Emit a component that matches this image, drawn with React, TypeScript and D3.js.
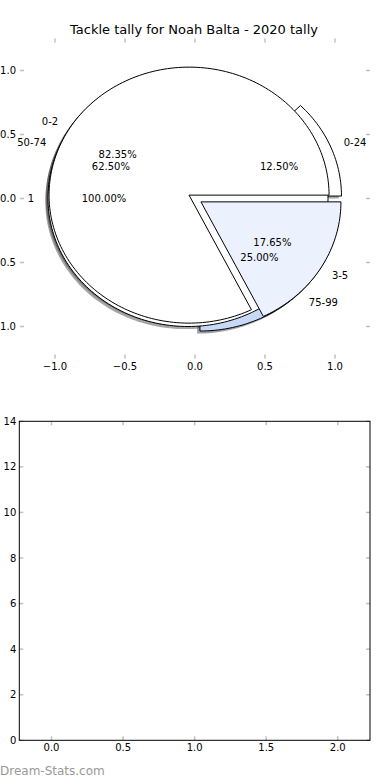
import * as d3 from "d3";

// pie data, drawn in this order (last on top)
const rangeLabels = ["0-24", "50-74", "75-99"];
const rangeValues = [1, 5, 2];
const fullLabels = ["1"];
const fullValues = [1];
const countLabels = ["0-2", "3-5"];
const countValues = [14, 3];

const pieTicks = [-1, -0.5, 0, 0.5, 1];
const barXTicks = [0, 0.5, 1, 1.5, 2];
const barYTicks = [0, 2, 4, 6, 8, 10, 12, 14];

const title = "Tackle tally for Noah Balta - 2020 tally";

const W = 390;
const H = 780;
const EXPLODE = 0.05;
const FONT = "DejaVu Sans, sans-serif";
const TICK = "#c0c0c0";

const pies = [
  { labels: rangeLabels, values: rangeValues, colors: ["#ffffff", "#ffffff", "#c6d9f6"] },
  { labels: fullLabels, values: fullValues, colors: ["#ffffff"] },
  { labels: countLabels, values: countValues, colors: ["#ffffff", "#ebf1fd"] },
];

const x = d3.scaleLinear().domain([-1.25, 1.25]).range([20, 370]);
const y = d3.scaleLinear().domain([-1.25, 1.25]).range([358.5, 38.5]);

const bx = d3.scaleLinear().domain([-0.225, 2.225]).range([19.3, 370]);
const by = d3.scaleLinear().domain([0, 14]).range([740.3, 421.3]);

const line = d3
  .line<[number, number]>()
  .x((d) => x(d[0]))
  .y((d) => y(d[1]));

function wedgePath(cx: number, cy: number, a0: number, a1: number) {
  const full = a1 - a0 >= 2 * Math.PI - 1e-9;
  const n = Math.max(2, Math.ceil((a1 - a0) / (Math.PI / 120)));
  const pts: [number, number][] = full ? [] : [[cx, cy]];
  for (let i = 0; i <= n; i++) {
    const t = a0 + ((a1 - a0) * i) / n;
    pts.push([cx + Math.cos(t), cy + Math.sin(t)]);
  }
  return line(pts) + "Z";
}

const pieGen = d3
  .pie<number>()
  .sort(null)
  .value((d) => d)
  .startAngle(0)
  .endAngle(2 * Math.PI);

const wedges = pies.flatMap((p, pi) => {
  const total = d3.sum(p.values);
  return pieGen(p.values).map((a, i) => {
    const mid = (a.startAngle + a.endAngle) / 2;
    const cx = EXPLODE * Math.cos(mid);
    const cy = EXPLODE * Math.sin(mid);
    return {
      key: `${pi}-${i}`,
      cx,
      cy,
      a0: a.startAngle,
      a1: a.endAngle,
      mid,
      color: p.colors[i],
      label: p.labels[i],
      pct: ((100 * p.values[i]) / total).toFixed(2) + "%",
    };
  });
});

function shadowColor(c: string) {
  const rgb = d3.rgb(c);
  return d3.rgb(rgb.r * 0.3, rgb.g * 0.3, rgb.b * 0.3).toString();
}

const fmt = (t: number) => d3.format(".1f")(t).replace("-", "\u2212");

export default function App() {
  return (
    <svg
      width={W}
      height={H}
      style={{ position: "absolute", left: 0, top: 0, background: "#fff" }}
      fontFamily={FONT}
    >
      <text x={194} y={34} textAnchor="middle" fontSize={13}>
        {title}
      </text>

      {/* pie panel ticks */}
      {pieTicks.map((t) => (
        <g key={"px" + t}>
          <line x1={x(t)} x2={x(t)} y1={y(1.25)} y2={y(1.25) + 4} stroke={TICK} strokeWidth={1.5} />
          <line x1={x(t)} x2={x(t)} y1={y(-1.25)} y2={y(-1.25) - 4} stroke={TICK} strokeWidth={1.5} />
          <text x={x(t)} y={y(-1.25) + 11} textAnchor="middle" fontSize={10}>
            {fmt(t)}
          </text>
        </g>
      ))}
      {pieTicks.map((t) => (
        <g key={"py" + t}>
          <line x1={x(-1.25)} x2={x(-1.25) + 4} y1={y(t)} y2={y(t)} stroke={TICK} strokeWidth={1.5} />
          <line x1={x(1.25)} x2={x(1.25) - 4} y1={y(t)} y2={y(t)} stroke={TICK} strokeWidth={1.5} />
          <text x={x(-1.25) - 4} y={y(t)} dy="0.35em" textAnchor="end" fontSize={10}>
            {fmt(t)}
          </text>
        </g>
      ))}

      {/* shadows under every wedge */}
      {wedges.map((w) => (
        <path
          key={"s" + w.key}
          d={wedgePath(w.cx - 0.02, w.cy - 0.02, w.a0, w.a1)}
          fill={shadowColor(w.color)}
          fillOpacity={0.5}
        />
      ))}
      {wedges.map((w) => (
        <path
          key={"w" + w.key}
          d={wedgePath(w.cx, w.cy, w.a0, w.a1)}
          fill={w.color}
          stroke="#000"
          strokeWidth={1}
        />
      ))}
      {wedges.map((w) => {
        const lx = w.cx + 1.1 * Math.cos(w.mid);
        const ly = w.cy + 1.1 * Math.sin(w.mid);
        const px = w.cx + 0.6 * Math.cos(w.mid);
        const py = w.cy + 0.6 * Math.sin(w.mid);
        return (
          <g key={"t" + w.key} fontSize={10}>
            <text x={x(lx)} y={y(ly)} dy="0.35em" textAnchor={lx > 0 ? "start" : "end"}>
              {w.label}
            </text>
            <text x={x(px)} y={y(py)} dy="0.35em" textAnchor="middle">
              {w.pct}
            </text>
          </g>
        );
      })}

      {/* empty bar panel */}
      {barXTicks.map((t) => (
        <g key={"bx" + t}>
          <line x1={bx(t)} x2={bx(t)} y1={by(0)} y2={by(0) - 4} stroke={TICK} strokeWidth={1.5} />
          <line x1={bx(t)} x2={bx(t)} y1={by(14)} y2={by(14) + 4} stroke={TICK} strokeWidth={1.5} />
          <text x={bx(t)} y={by(0) + 11} textAnchor="middle" fontSize={10}>
            {d3.format(".1f")(t)}
          </text>
        </g>
      ))}
      {barYTicks.map((t) => (
        <g key={"by" + t}>
          <line x1={bx(-0.225)} x2={bx(-0.225) + 4} y1={by(t)} y2={by(t)} stroke={TICK} strokeWidth={1.5} />
          <line x1={bx(2.225)} x2={bx(2.225) - 4} y1={by(t)} y2={by(t)} stroke={TICK} strokeWidth={1.5} />
          <text x={bx(-0.225) - 3} y={by(t)} dy="0.35em" textAnchor="end" fontSize={10}>
            {t}
          </text>
        </g>
      ))}
      <rect
        x={bx(-0.225)}
        y={by(14)}
        width={bx(2.225) - bx(-0.225)}
        height={by(0) - by(14)}
        fill="none"
        stroke="#000"
        strokeWidth={1}
      />

      <text x={0} y={775} fontSize={12} fill="#999999">
        Dream-Stats.com
      </text>
    </svg>
  );
}
